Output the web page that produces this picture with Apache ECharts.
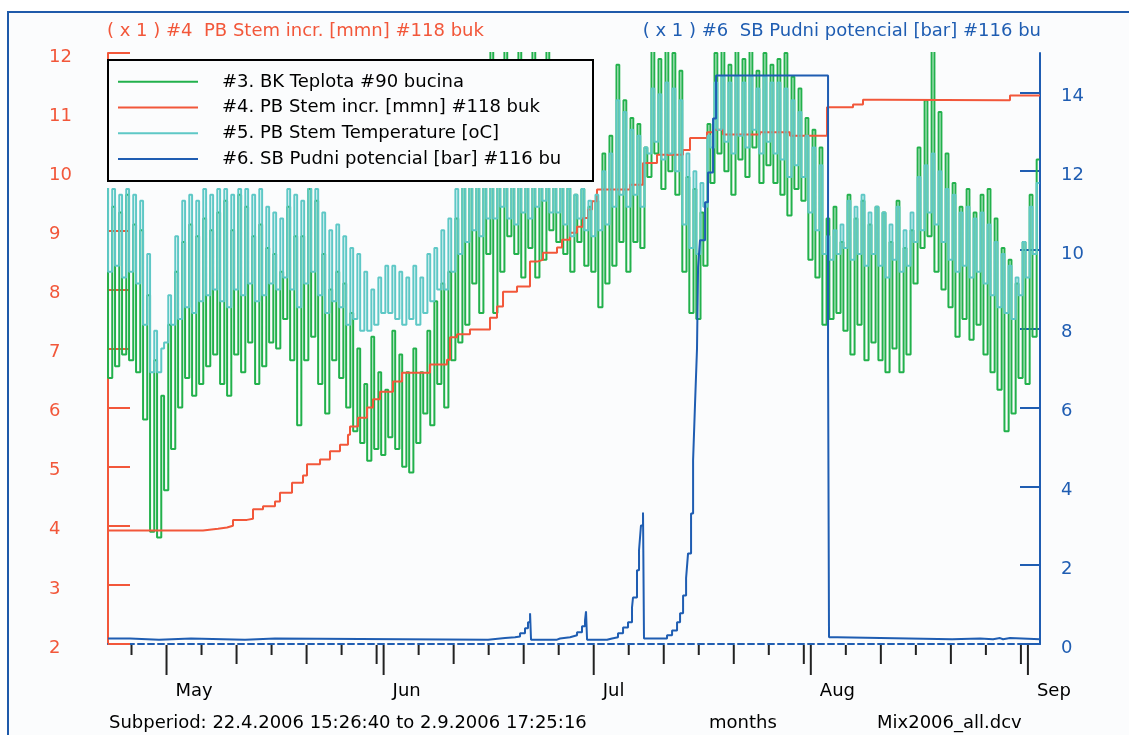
<!DOCTYPE html>
<html><head><meta charset="utf-8">
<script src="https://cdn.jsdelivr.net/npm/echarts@6/dist/echarts.min.js"></script>
<style>html,body{margin:0;padding:0;background:#fff}#c{width:1129px;height:735px}</style>
</head><body><div id="c"></div>
<script>
// ---- time range (days since 22.4.2006 00:00) ----
const START = 0.6435;   // 22.4.2006 15:26:40
const END = 133.726;    // 2.9.2006 17:25:16

// ---- axis ticks / month labels ----
const tickDays  = [4, 9, 14, 19, 24, 29, 34, 39, 40, 45, 50, 55, 60, 65, 70, 75, 80, 85, 90, 95, 100, 101, 106, 111, 116, 121, 126, 131, 132];
const tickKinds = ['s','L','s','m','s','m','s','m','L','s','m','s','m','s','L','s','m','s','m','s','m','L','s','m','s','m','s','m','L'];
const monthDays = [9, 40, 70, 101, 132];
const monthLabels = ['May', 'Jun', 'Jul', 'Aug', 'Sep'];
const leftTicks = [2,3,4,5,6,7,8,9,10,11,12];
const rightTicks = [0,2,4,6,8,10,12,14];

// ---- #3 BK Teplota: daily minima / maxima (index = day since 22.4.) ----
const greenMax = [10.4,
 9.4,9.3,9.6,9.1,9.0, 7.9,6.8,6.2,7.4,8.3, 8.8,9.1,8.9,9.2,9.0, 9.3,9.5,9.0,9.6,9.4,
 8.9,9.1,8.7,8.6,8.3, 9.4,8.9,8.9,9.7,9.5, 8.6,8.0,8.3,8.1,7.6, 7.0,6.4,7.2,6.6,6.3,
 7.3,6.9,6.6,7.0,6.6, 7.3,7.8,8.1,8.3,9.2, 10.4,10.8,11.2,10.9,12.2, 11.5,12.2,11.0,12.2,11.3,
 12.2,11.6,12.2,11.1,10.6, 9.8,9.6,9.7,9.4,9.5, 10.3,10.6,11.8,11.2,10.9, 10.8,10.4,12.2,11.9,12.2,
 12.0,11.7,9.9,9.7,9.3, 10.8,12.0,12.2,11.8,12.1, 11.9,12.2,11.7,12.0,11.8, 11.9,12.0,11.6,11.4,10.9,
 10.7,10.4,9.2,9.4,8.8, 9.6,9.2,9.5,9.1,9.4, 9.3,8.8,9.5,8.7,9.0, 10.4,11.2,12.2,11.0,10.3,
 9.8,9.4,9.7,9.3,9.6, 9.7,9.2,8.7,8.5,8.1, 8.8,9.6,10.2];
const greenMin = [null,
 6.5,6.7,6.9,6.8,6.6, 5.8,3.9,3.8,4.6,5.3, 6.0,6.5,6.2,6.4,6.7, 6.9,6.4,6.2,6.9,6.6,
 7.1,6.4,6.7,7.1,7.0, 7.5,6.8,5.7,6.8,7.2, 6.4,5.9,6.8,6.5,6.0, 5.6,5.4,5.1,5.3,5.2,
 5.5,5.3,5.0,4.9,5.4, 5.9,5.7,6.4,6.0,6.8, 7.1,7.4,8.1,7.6,8.6, 7.6,8.3,8.9,8.6,8.2,
 8.7,8.2,8.5,9.0,8.8, 8.6,8.3,8.8,8.4,8.3, 7.7,8.1,8.4,8.8,8.3, 8.8,8.7,9.9,10.3,9.7,
 10.0,9.6,8.3,7.6,7.5, 8.4,9.8,10.3,10.0,9.6, 10.2,9.9,10.4,9.8,10.1, 9.8,9.6,9.25,9.7,9.5,
 8.5,8.2,7.4,7.5,7.6, 7.3,6.9,7.4,6.8,7.1, 6.8,6.6,7.0,6.6,6.9, 8.1,8.7,8.9,8.3,8.0,
 7.7,7.2,7.5,7.15,7.4, 6.9,6.6,6.3,5.6,5.9, 6.5,6.4,7.2];

// ---- #5 PB Stem Temperature: daily minima / maxima ----
const cyanMax = [9.8,
 9.7,9.6,9.7,9.6,9.5, 8.6,7.3,7.0,7.9,8.9, 9.5,9.6,9.5,9.7,9.6, 9.7,9.7,9.6,9.7,9.7,
 9.6,9.7,9.4,9.3,9.2, 9.7,9.6,9.5,9.8,9.7, 9.3,9.0,9.1,8.9,8.7, 8.6,8.3,8.0,8.2,8.4,
 8.4,8.3,8.2,8.4,8.2, 8.6,8.7,9.0,9.2,9.7, 10.0,10.2,10.4,10.3,10.6, 10.5,10.7,10.4,10.8,10.5,
 10.7,10.4,10.6,10.2,10.0, 9.7,9.6,9.7,9.5,9.6, 10.0,10.3,11.2,11.0,10.7, 10.6,10.4,11.4,11.3,11.5,
 11.4,11.2,10.3,10.0,9.8, 10.6,11.5,11.6,11.5,11.6, 11.5,11.6,11.4,11.6,11.5, 11.5,11.4,11.2,11.0,10.6,
 10.4,10.1,8.9,9.0,9.1, 9.5,9.4,9.6,9.3,9.4, 9.3,9.1,9.4,9.0,9.3, 9.9,10.1,10.3,10.0,9.7,
 9.6,9.3,9.4,9.2,9.3, 9.1,8.8,8.6,8.4,8.2, 8.8,9.4,9.8];
const cyanMin = [null,
 8.3,8.4,8.2,8.3,8.1, 7.4,6.6,6.6,7.1,7.4, 7.5,7.7,7.6,7.8,7.9, 8.0,7.8,7.7,8.0,7.9,
 8.1,7.8,7.9,8.1,8.0, 8.2,8.0,7.7,8.1,8.3, 7.9,7.6,7.8,7.7,7.4, 7.5,7.3,7.3,7.4,7.6,
 7.6,7.5,7.4,7.5,7.4, 7.6,7.8,8.0,8.0,8.3, 8.6,8.8,9.0,8.9,9.2, 9.2,9.4,9.2,9.1,9.3,
 9.2,9.4,9.5,9.3,9.3, 9.1,8.9,9.2,9.0,8.9, 9.0,9.1,9.4,9.6,9.4, 9.6,9.4,10.3,10.5,10.2,
 10.3,10.0,9.1,8.7,8.6, 9.4,10.4,10.7,10.5,10.3, 10.6,10.4,10.7,10.3,10.5, 10.3,10.2,9.9,10.1,9.9,
 9.3,9.0,8.6,8.5,8.6, 8.7,8.5,8.6,8.4,8.6, 8.4,8.2,8.5,8.3,8.4, 8.8,9.0,9.3,9.1,8.8,
 8.5,8.3,8.4,8.2,8.3, 8.1,7.9,7.7,7.6,7.5, 7.9,8.2,8.6];
const MIN_TIME = 0.25, MAX_TIME = 0.65; // time of day of daily extremes

// ---- #4 PB Stem incr. (step series) ----
const redDays = [0.6435,14.21,16.35,17.64,18.49,20.49,21.35,22.78,24.49,25.20,26.92,28.49,29.06,30.92,32.34,33.77,34.91,35.20,36.34,37.63,38.48,39.48,41.34,42.63,46.62,49.05,49.48,50.48,52.33,55.19,56.19,57.05,59.05,60.90,61.90,62.76,64.76,65.47,66.61,67.61,68.47,69.19,69.76,70.47,75.18,77.04,79.04,82.75,83.75,86.18,87.04,88.47,93.75,98.03,103.31,107.03,108.45,110.88,129.02,129.44,133.726];
const redValues = [3.92,3.95,3.97,4.0,4.1,4.12,4.28,4.33,4.41,4.56,4.73,4.85,5.04,5.12,5.26,5.37,5.54,5.68,5.83,6.0,6.14,6.27,6.44,6.59,6.73,6.81,7.19,7.24,7.32,7.52,7.71,7.96,8.05,8.47,8.5,8.62,8.71,8.84,8.96,9.06,9.21,9.35,9.49,9.69,9.77,10.14,10.28,10.36,10.56,10.66,10.7,10.62,10.66,10.6,11.08,11.13,11.21,11.2,11.2,11.28,11.28];

// ---- #6 SB Pudni potencial (step series, right axis) ----
const blueDays = [0.6435,3.79,7.93,12.50,20.21,24.49,54.91,57.34,58.76,59.48,60.19,60.62,60.91,61.05,64.76,65.19,66.62,67.62,68.33,68.76,68.90,69.05,71.90,72.62,73.47,74.19,74.90,75.47,75.61,76.18,76.47,76.75,77.04,77.18,79.47,80.47,81.19,81.90,82.33,82.76,83.19,83.47,83.90,84.19,84.47,84.75,84.90,85.18,85.90,86.32,87.04,87.47,103.46,103.60,104.75,121.17,125.17,127.02,128.02,128.45,129.45,133.726];
const blueValues = [0.14,0.11,0.14,0.11,0.14,0.11,0.15,0.17,0.19,0.27,0.40,0.55,0.78,0.11,0.14,0.17,0.22,0.30,0.45,0.60,0.83,0.11,0.14,0.17,0.27,0.42,0.55,0.93,1.18,1.87,2.38,3.01,3.34,0.14,0.14,0.22,0.34,0.55,0.78,1.23,1.67,2.30,3.31,4.66,6.11,7.5,9.56,10.25,11.21,11.97,13.34,14.43,7.32,0.17,0.12,0.14,0.12,0.15,0.12,0.15,0.12,0.12];

// ---- names ----
const names = ['#3. BK Teplota #90 bucina', '#4. PB Stem incr. [mmn] #118 buk', '#5. PB Stem Temperature [oC]', '#6. SB Pudni potencial [bar] #116 bu'];

const GREEN = '#22b14c', RED = '#f2573a', CYAN = '#5ec8c6', BLUE = '#1f5db2';
const FONT = 'DejaVu Sans';
const BG = '#fbfcfd';

function daily(mins, maxs) {
  const out = [];
  for (let d = 0; d < maxs.length; d++) {
    if (mins[d] != null && d + MIN_TIME >= START) out.push([d + MIN_TIME, mins[d]]);
    if (d + MAX_TIME >= START && d + MAX_TIME <= END) out.push([d + MAX_TIME, maxs[d]]);
  }
  return out;
}
const zip = (a, b) => a.map((v, i) => [v, b[i]]);
const tickLen = { L: 30, m: 19, s: 10 };

const chart = echarts.init(document.getElementById('c'), null, { renderer: 'canvas' });
chart.setOption({
  animation: false,
  backgroundColor: BG,
  grid: { left: 108, right: 89, top: 53, bottom: 91, containLabel: false },
  legend: {
    show: true, selectedMode: false, orient: 'vertical', left: 118, top: 69, padding: 0,
    itemGap: 0, itemWidth: 80, itemHeight: 2, icon: 'rect', z: 4,
    data: names,
    textStyle: { fontFamily: FONT, fontSize: 18, color: '#000', lineHeight: 25.7, padding: [0, 0, 0, 19] }
  },
  xAxis: {
    type: 'value', min: START, max: END,
    axisLine: { show: true, lineStyle: { color: BLUE, width: 2, type: [6, 4] } },
    axisTick: { show: false }, axisLabel: { show: false }, splitLine: { show: false }
  },
  yAxis: [
    {
      type: 'value', min: 2, max: 12, interval: 1, position: 'left',
      axisLine: { show: true, lineStyle: { color: RED, width: 2 } },
      axisTick: { show: true, inside: true, length: 22, lineStyle: { color: RED, width: 2 }, customValues: leftTicks },
      axisLabel: { color: RED, fontFamily: FONT, fontSize: 18, align: 'left', margin: 59, verticalAlign: 'top', lineHeight: 8, customValues: leftTicks },
      splitLine: { show: false }
    },
    {
      type: 'value', min: 0, max: 15, position: 'right',
      axisLine: { show: true, lineStyle: { color: BLUE, width: 2 } },
      axisTick: { show: true, inside: true, length: 20, lineStyle: { color: BLUE, width: 2 }, customValues: rightTicks },
      axisLabel: { color: BLUE, fontFamily: FONT, fontSize: 18, align: 'left', margin: 21, verticalAlign: 'top', lineHeight: 8, customValues: rightTicks },
      splitLine: { show: false }
    }
  ],
  graphic: [
    { type: 'rect', z: 0, shape: { x: 0, y: 0, width: 1129, height: 11 }, style: { fill: '#fff' } },
    { type: 'rect', z: 0, shape: { x: 0, y: 0, width: 7, height: 735 }, style: { fill: '#fff' } },
    { type: 'polyline', z: 1, shape: { points: [[8, 740], [8, 12], [1135, 12]] }, style: { stroke: '#1f5aaa', lineWidth: 2, fill: null } },
    { type: 'rect', z: 3, shape: { x: 107, y: 59, width: 489, height: 129 }, style: { fill: BG } },
    { type: 'rect', z: 6, shape: { x: 108, y: 60, width: 485, height: 121 }, style: { fill: null, stroke: '#000', lineWidth: 2 } },
    { type: 'text', z: 6, x: 107, y: 31, style: { text: '( x 1 ) #4  PB Stem incr. [mmn] #118 buk', fill: RED, font: '18px "DejaVu Sans"', textAlign: 'left', textVerticalAlign: 'middle' } },
    { type: 'text', z: 6, x: 1041, y: 31, style: { text: '( x 1 ) #6  SB Pudni potencial [bar] #116 bu', fill: BLUE, font: '18px "DejaVu Sans"', textAlign: 'right', textVerticalAlign: 'middle' } },
    { type: 'text', z: 6, x: 109, y: 723, style: { text: 'Subperiod: 22.4.2006 15:26:40 to 2.9.2006 17:25:16', fill: '#000', font: '18px "DejaVu Sans"', textVerticalAlign: 'middle' } },
    { type: 'text', z: 6, x: 709, y: 723, style: { text: 'months', fill: '#000', font: '18px "DejaVu Sans"', textVerticalAlign: 'middle' } },
    { type: 'text', z: 6, x: 877, y: 723, style: { text: 'Mix2006_all.dcv', fill: '#000', font: '18px "DejaVu Sans"', textVerticalAlign: 'middle' } }
  ],
  series: [
    { name: names[0], type: 'line', yAxisIndex: 0, step: 'start', data: daily(greenMin, greenMax), showSymbol: false, symbol: 'none', lineStyle: { color: GREEN, width: 2 }, itemStyle: { color: GREEN }, z: 2 },
    { name: names[1], type: 'line', yAxisIndex: 0, step: 'end', data: zip(redDays, redValues), showSymbol: false, symbol: 'none', lineStyle: { color: RED, width: 2 }, itemStyle: { color: RED }, z: 2 },
    { name: names[2], type: 'line', yAxisIndex: 0, step: 'start', data: daily(cyanMin, cyanMax), showSymbol: false, symbol: 'none', lineStyle: { color: CYAN, width: 2 }, itemStyle: { color: CYAN }, z: 2 },
    { name: names[3], type: 'line', yAxisIndex: 1, step: 'end', data: zip(blueDays, blueValues), showSymbol: false, symbol: 'none', lineStyle: { color: BLUE, width: 2 }, itemStyle: { color: BLUE }, z: 2 },
    {
      type: 'custom', yAxisIndex: 0, clip: false, z: 5, silent: true,
      data: tickDays.map((d, i) => [d, i]),
      renderItem: function (params, api) {
        const x = api.coord([api.value(0), 2])[0];
        const y0 = params.coordSys.y + params.coordSys.height + 1;
        const len = tickLen[tickKinds[api.value(1)]];
        return { type: 'line', shape: { x1: x, y1: y0, x2: x, y2: y0 + len }, style: { stroke: '#222', lineWidth: 2 } };
      }
    },
    {
      type: 'custom', yAxisIndex: 0, clip: false, z: 5, silent: true,
      data: monthDays.map((d, i) => [d, i]),
      renderItem: function (params, api) {
        const x = api.coord([api.value(0), 2])[0];
        return { type: 'text', x: x + 9, y: 691, style: { text: monthLabels[api.value(1)], fill: '#000', font: '18px "DejaVu Sans"', textAlign: 'left', textVerticalAlign: 'middle' } };
      }
    }
  ]
});
</script>
</body></html>
